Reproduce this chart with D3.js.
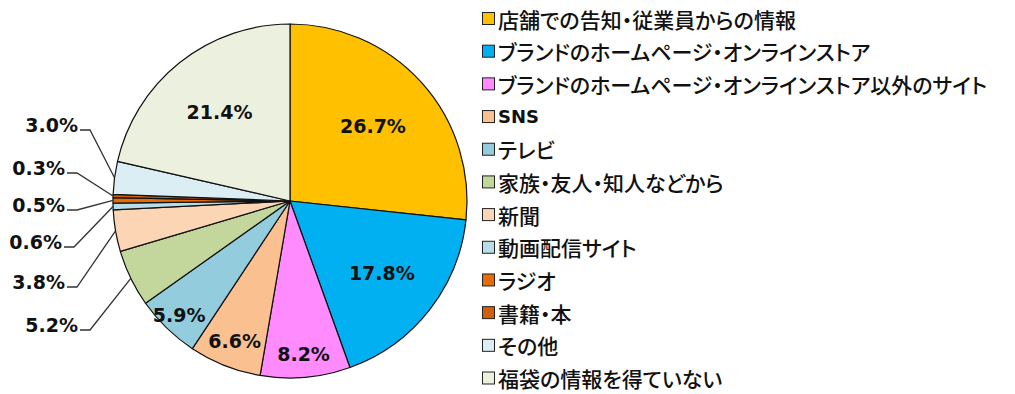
<!DOCTYPE html>
<html>
<head>
<meta charset="utf-8">
<script src="https://cdn.jsdelivr.net/npm/d3@7"></script>
<style>
  body { margin: 0; background: #fff; }
  svg { display: block; }
</style>
</head>
<body>
<svg id="chart"></svg>
<script>
// categories, in clockwise order from 12 o'clock
const categories = [
  "店舗での告知・従業員からの情報",
  "ブランドのホームページ・オンラインストア",
  "ブランドのホームページ・オンラインストア以外のサイト",
  "SNS",
  "テレビ",
  "家族・友人・知人などから",
  "新聞",
  "動画配信サイト",
  "ラジオ",
  "書籍・本",
  "その他",
  "福袋の情報を得ていない"
];
const values = [26.7, 17.8, 8.2, 6.6, 5.9, 5.2, 3.8, 0.6, 0.5, 0.3, 3.0, 21.4];
const colors = ["#FFC000", "#00B0F0", "#FF8BFF", "#FAC090", "#93CDDD", "#C3D69B",
                "#FCD5B5", "#B7DEE8", "#E46C0A", "#D0600C", "#DBEEF4", "#EBF1DE"];

// which slices get inside labels (radius fraction) and which get outside labels with leaders
const insideRadius = { 0: 0.63, 1: 0.66, 2: 0.87, 3: 0.85, 4: 0.9, 11: 0.64 };
const outsideLabels = {
  10: { x: 78, y: 125 },
  9:  { x: 65, y: 168 },
  8:  { x: 65, y: 205 },
  7:  { x: 62, y: 242 },
  6:  { x: 65, y: 282 },
  5:  { x: 78, y: 325 }
};

const width = 1015, height = 394;
const cx = 290, cy = 201, r = 177;

const svg = d3.select("#chart").attr("width", width).attr("height", height);

const pie = d3.pie().sort(null).value(d => d);
const arcs = pie(values);
const arc = d3.arc().innerRadius(0).outerRadius(r);

const g = svg.append("g").attr("transform", "translate(" + cx + "," + cy + ")");

g.selectAll("path.slice")
  .data(arcs)
  .enter().append("path")
  .attr("class", "slice")
  .attr("d", arc)
  .attr("fill", (d, i) => colors[i])
  .attr("stroke", "#111")
  .attr("stroke-width", 1.2)
  .attr("stroke-linejoin", "round");

const labelFont = "'DejaVu Sans', sans-serif";

// inside labels
arcs.forEach((d, i) => {
  if (insideRadius[i] === undefined) return;
  const c = d3.arc().innerRadius(r * insideRadius[i]).outerRadius(r * insideRadius[i]).centroid(d);
  g.append("text")
    .attr("x", c[0]).attr("y", c[1])
    .attr("text-anchor", "middle")
    .attr("dominant-baseline", "central")
    .attr("font-family", labelFont)
    .attr("font-weight", "bold")
    .attr("font-size", 19)
    .attr("fill", "#111")
    .text(values[i].toFixed(1) + "%");
});

// outside labels with leader lines
const edge = d3.arc().innerRadius(r).outerRadius(r);
arcs.forEach((d, i) => {
  const lab = outsideLabels[i];
  if (!lab) return;
  const p = edge.centroid(d);
  const px = p[0] + cx, py = p[1] + cy;
  svg.append("text")
    .attr("x", lab.x).attr("y", lab.y)
    .attr("text-anchor", "end")
    .attr("dominant-baseline", "central")
    .attr("font-family", labelFont)
    .attr("font-weight", "bold")
    .attr("font-size", 19)
    .attr("fill", "#111")
    .text(values[i].toFixed(1) + "%");
  const ly = lab.y + 5;
  svg.append("polyline")
    .attr("points", [[lab.x + 2, ly], [lab.x + 12, ly], [px, py]].map(q => q.join(",")).join(" "))
    .attr("fill", "none")
    .attr("stroke", "#333")
    .attr("stroke-width", 1.3);
});

// legend
const legendY = d3.scalePoint().domain(d3.range(categories.length)).range([18.5, 378]);
const legend = svg.append("g");
categories.forEach((name, i) => {
  const y = legendY(i);
  legend.append("rect")
    .attr("x", 482.5).attr("y", y - 6)
    .attr("width", 12).attr("height", 12)
    .attr("fill", colors[i])
    .attr("stroke", "#222")
    .attr("stroke-width", 1);
  legend.append("text")
    .attr("x", 498).attr("y", y)
    .attr("dominant-baseline", "central")
    .attr("font-family", name === "SNS" ? labelFont : "'Noto Sans CJK JP', sans-serif")
    .attr("font-weight", name === "SNS" ? "bold" : "500")
    .attr("font-size", name === "SNS" ? 18 : 21)
    .style("font-feature-settings", "'palt'")
    .attr("fill", "#111")
    .text(name);
});
</script>
</body>
</html>
